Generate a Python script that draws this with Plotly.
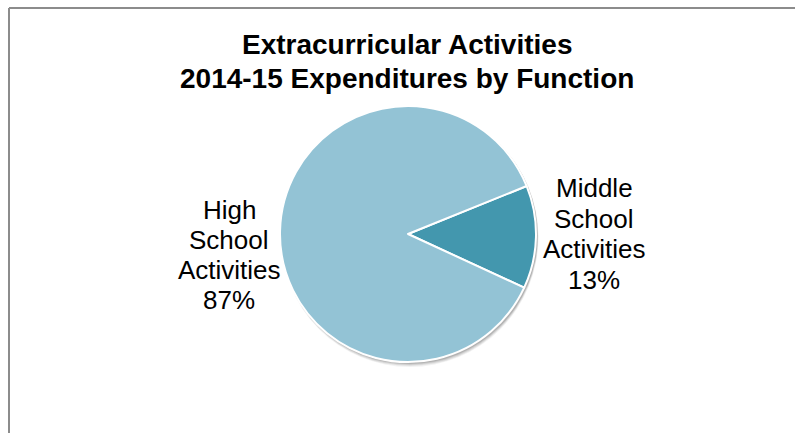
import plotly.graph_objects as go

# Expenditure shares by function
categories = ["Middle School Activities", "High School Activities"]
shares = [13, 87]
colors = ["#4397AE", "#93C3D5"]
title_lines = ["Extracurricular Activities", "2014-15 Expenditures by Function"]

W, H = 795, 433
cx, cy, r = 408, 234, 128  # pie centre and radius in pixels


def px_x(x):
    return x / W


def px_y(y):
    return 1 - y / H


fig = go.Figure()

fig.add_trace(go.Pie(
    labels=categories,
    values=shares,
    sort=False,
    direction="clockwise",
    rotation=68,
    marker=dict(colors=colors, line=dict(color="white", width=2)),
    textinfo="none",
    hoverinfo="label+percent",
    showlegend=False,
    domain=dict(x=[px_x(cx - r), px_x(cx + r)], y=[px_y(cy + r), px_y(cy - r)]),
))

# Soft drop shadow under the pie
shapes = []
for off, alpha in [(5, 0.05), (4, 0.07), (3, 0.09), (2, 0.12)]:
    shapes.append(dict(
        type="circle", xref="paper", yref="paper", layer="below",
        x0=px_x(cx - r + 1), x1=px_x(cx + r + 1 + off * 0.3),
        y0=px_y(cy + r + off), y1=px_y(cy - r + 1),
        fillcolor=f"rgba(0,0,0,{alpha})", line=dict(width=0),
    ))

# Chart frame (left and top edges)
shapes.append(dict(type="line", xref="paper", yref="paper",
                   x0=px_x(9), x1=px_x(9), y0=0, y1=px_y(8),
                   line=dict(color="#8C8C8C", width=2)))
shapes.append(dict(type="line", xref="paper", yref="paper",
                   x0=px_x(9), x1=1, y0=px_y(8), y1=px_y(8),
                   line=dict(color="#8C8C8C", width=2)))

font_family = "Liberation Sans, Arial, sans-serif"
label_font = dict(family=font_family, size=26, color="#000000")
# centre x and first-line y of each slice label, with line pitch
label_pos = {
    "Middle School Activities": (594, 188, 30.7),
    "High School Activities": (229, 210, 30),
}
annotations = []
for name, val in zip(categories, shares):
    lines = name.split(" ") + [f"{val}%"]
    x, y0, step = label_pos[name]
    for i, line in enumerate(lines):
        annotations.append(dict(
            x=px_x(x), y=px_y(y0 + i * step), xref="paper", yref="paper",
            text=line, showarrow=False, font=label_font,
            xanchor="center", yanchor="middle", align="center",
        ))

for i, line in enumerate(title_lines):
    annotations.append(dict(
        x=px_x(407), y=px_y(45 + i * 33), xref="paper", yref="paper",
        text=f"<b>{line}</b>",
        showarrow=False, xanchor="center", yanchor="middle", align="center",
        font=dict(family=font_family, size=28, color="#000000"),
    ))

fig.update_layout(
    width=W, height=H,
    margin=dict(l=0, r=0, t=0, b=0),
    paper_bgcolor="white",
    plot_bgcolor="white",
    shapes=shapes,
    annotations=annotations,
)

fig.write_html("out.html")
